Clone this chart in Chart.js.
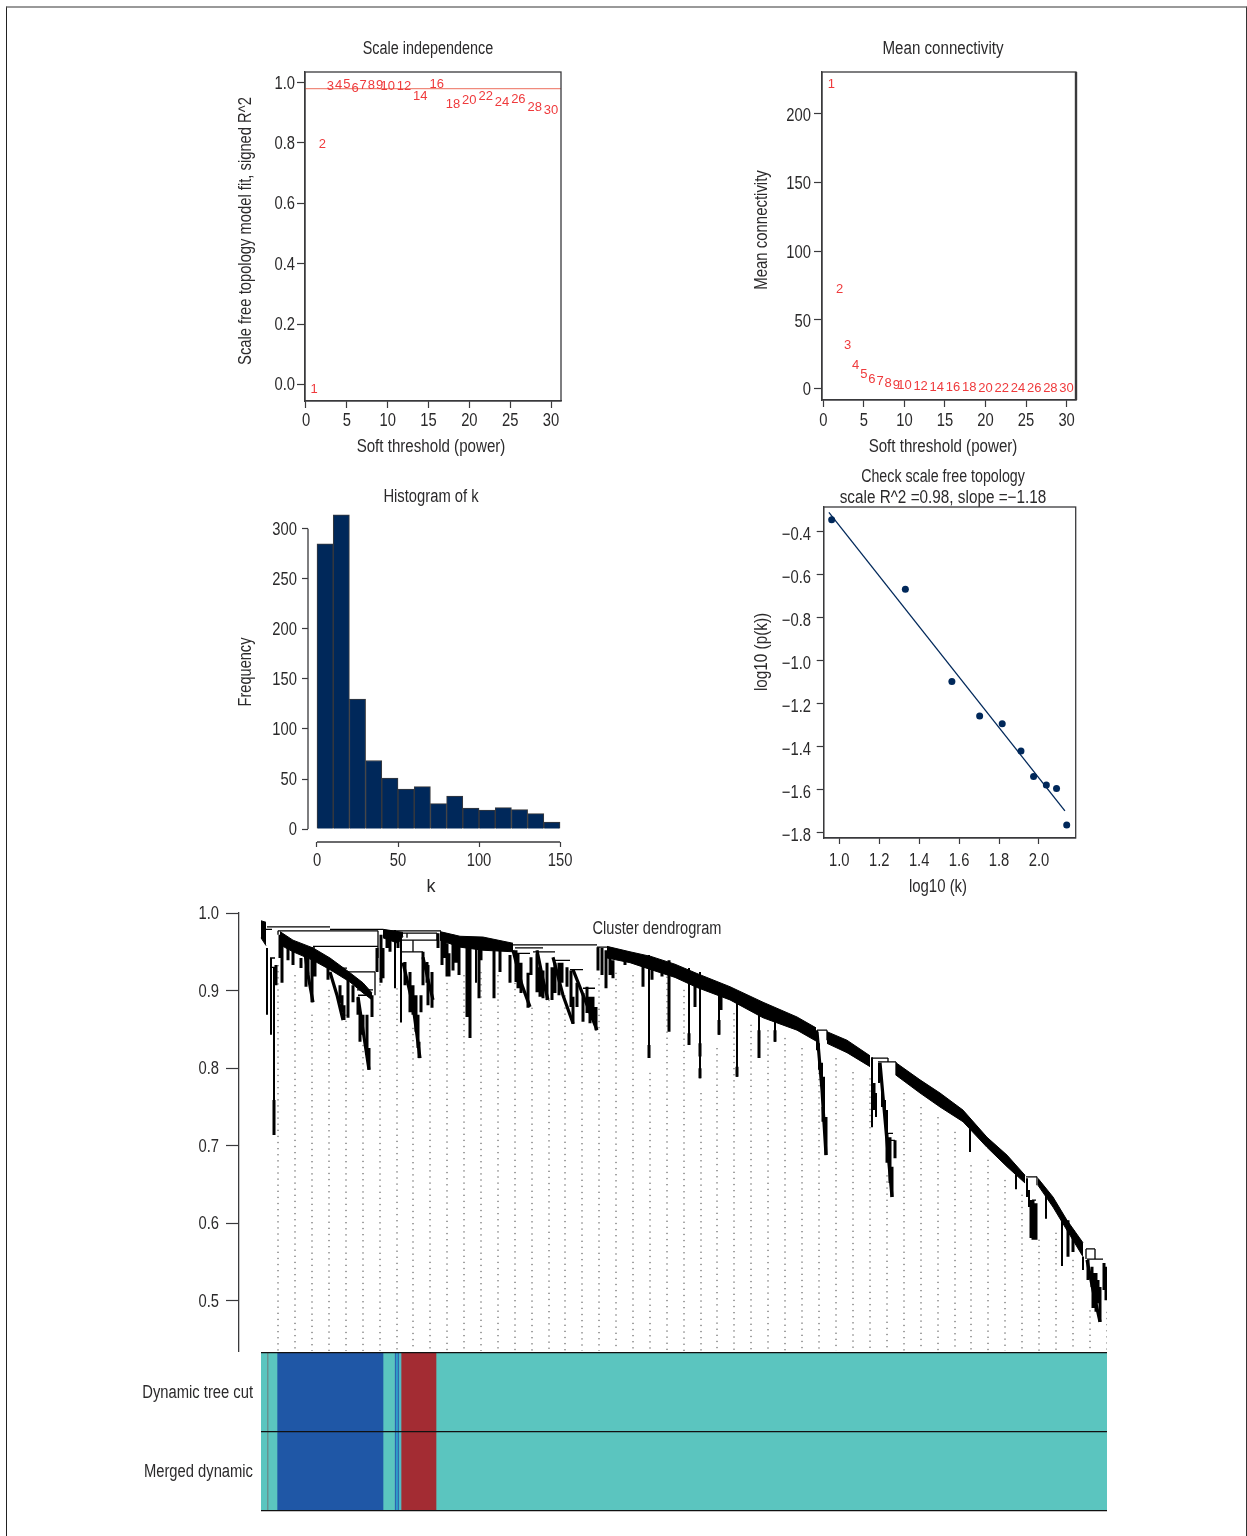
<!DOCTYPE html>
<html><head><meta charset="utf-8">
<style>
html,body{margin:0;padding:0;background:#fff}
#page{position:relative;width:1247px;height:1536px;overflow:hidden}
#frame{position:absolute;left:6px;top:6px;width:1241px;height:1560px;border-left:1px solid #222;border-right:1px solid #333;border-top:2px solid #999;box-sizing:border-box}
canvas{position:absolute}
</style>
<script src="https://cdn.jsdelivr.net/npm/chart.js@4"></script>
</head><body><div id="page"><div id="frame"></div></div>
<script>
// ---------- values ----------
const powers = [1,2,3,4,5,6,7,8,9,10,12,14,16,18,20,22,24,26,28,30];
const scaleFreeFit = [-0.015,0.795,0.987,0.99,0.994,0.98,0.991,0.991,0.991,0.987,0.986,0.955,0.994,0.927,0.941,0.954,0.933,0.945,0.917,0.908];
const cutHeight = 0.98;
const meanConnectivity = [221.6,72,31.5,16.7,10,6.5,4.9,3.6,2.4,2,1.2,0.7,0.5,0.3,0.2,0.2,0.1,0.1,0.1,0.1];
const histBinMid = [5,15,25,35,45,55,65,75,85,95,105,115,125,135,145];
const histCounts = [285,314,130,68.5,51,40,42.5,25.5,33,21,19,21.5,19.5,15.5,7];
const logK = [0.962,1.331,1.564,1.703,1.816,1.91,1.973,2.037,2.088,2.139];
const logPk = [-0.344,-0.668,-1.096,-1.257,-1.293,-1.42,-1.538,-1.578,-1.594,-1.764];
const fitLineX = [0.948,2.13];
const fitLineY = [-0.31,-1.698];
const powerTicks = [0,5,10,15,20,25,30];
const fitTicks = [0,0.2,0.4,0.6,0.8,1];
const connectivityTicks = [0,50,100,150,200];
const histXTicks = [0,50,100,150];
const histYTicks = [0,50,100,150,200,250,300];
const logKTicks = [1,1.2,1.4,1.6,1.8,2];
const logPkTicks = [-0.4,-0.6,-0.8,-1,-1.2,-1.4,-1.6,-1.8];
const heightTicks = [0.5,0.6,0.7,0.8,0.9,1];
const trackNames = ['Dynamic tree cut','Merged dynamic'];
const moduleSizes = [6,1,9,106,11.5,1,2,1,2,0.5,35,671];
const moduleColors = ['#5bc5bf','#6e7a7a','#5bc5bf','#1f57a6','#5bc5bf','#2a55a8','#2a9fc9','#2a55a8','#4fb8c4','#5bc5bf','#a32c33','#5bc5bf'];

// dendrogram: [leaf, height] or [leaf, top height, bottom height]
const bandTip = [[0,0.99,0.968],[5,0.988,0.958]];
const bandA = [[19,0.976,0.959],[32,0.965,0.95],[52,0.955,0.939],[69,0.942,0.927],[89,0.923,0.911],[102,0.91,0.897],[111,0.897,0.888]];
const bandB = [[122,0.979,0.968],[137,0.976,0.961],[142,0.975,0.97]];
const bandC = [[179,0.976,0.965],[199,0.97,0.956],[222,0.969,0.952],[252,0.961,0.95]];
const bandD = [[346,0.957,0.942],[369,0.95,0.936],[390,0.944,0.927],[414,0.934,0.917],[436,0.922,0.904],[469,0.905,0.888],[502,0.885,0.865],[536,0.866,0.849],[555,0.852,0.835]];
const bandE = [[566,0.847,0.832],[586,0.836,0.82],[609,0.816,0.802]];
const bandF = [[635,0.807,0.791],[659,0.785,0.768],[679,0.768,0.75],[702,0.746,0.731],[726,0.711,0.698],[746,0.688,0.673],[764,0.662,0.652]];
const bandG = [[777,0.658,0.649],[792,0.634,0.621],[806,0.604,0.591],[822,0.575,0.557]];
const strands = [
  [[44,0.948],[47,0.92],[52,0.885]],[[69,0.924],[76,0.894],[82,0.862]],[[97,0.892],[102,0.849],[108,0.798]],
  [[142,0.936],[152,0.881],[159,0.813]],[[162,0.943],[167,0.914],[172,0.888]],[[252,0.952],[261,0.907],[269,0.879]],
  [[276,0.952],[282,0.914],[287,0.888]],[[292,0.943],[302,0.894],[312,0.858]],[[312,0.927],[324,0.888],[336,0.849]],
  [[556,0.847],[561,0.772],[565,0.688]],[[619,0.807],[625,0.72],[631,0.634]],[[826,0.553],[832,0.514],[839,0.473]]
];
const links = [[6,69,0.982],[69,97,0.979],[97,122,0.979],[17,117,0.977],[52,117,0.957],[86,114,0.924],[96,112,0.901],[97,111,0.894],[76,86,0.929],[44,54,0.955],[49,56,0.948],[9,14,0.942],[11,15,0.93],[1,11,0.979],[140,162,0.95],[152,176,0.965],[140,152,0.965],[140,176,0.974],[122,180,0.977],[254,282,0.955],[254,269,0.948],[272,294,0.95],[294,309,0.939],[309,322,0.927],[322,334,0.903],[252,336,0.959],[336,346,0.956],[556,566,0.849],[611,627,0.813],[617,635,0.808],[626,632,0.716],[629,634,0.707],[765,776,0.66],[771,775,0.63],[825,834,0.567],[826,842,0.554]];
const stemsThin = [[17,0.977,0.972],[117,0.977,0.942],[114,0.924,0.894],[152,0.965,0.95],[146,0.974,0.968],[176,0.974,0.965],[627,0.813,0.808],[635,0.808,0.791],[776,0.66,0.649],[825,0.567,0.554],[834,0.567,0.554],[566,0.849,0.836]];
const stemsMid = [[6,0.955,0.869],[10,0.942,0.843],[13,0.93,0.714],[134,0.978,0.903],[140,0.968,0.859],[215,0.968,0.91],[388,0.946,0.813],[428,0.929,0.83],[439,0.924,0.787],[476,0.898,0.789],[458,0.898,0.843],[498,0.884,0.813],[514,0.875,0.834],[556,0.849,0.823],[558,0.832,0.798],[561,0.807,0.768],[563,0.789,0.729],[611,0.814,0.724],[615,0.768,0.737],[618,0.807,0.781],[621,0.781,0.75],[624,0.759,0.729],[626,0.746,0.716],[709,0.729,0.692],[755,0.665,0.644],[766,0.658,0.634],[768,0.643,0.621],[785,0.639,0.606],[801,0.608,0.545],[822,0.557,0.54]];
const stemsHeavy = [[15,0.933,0.907],[21,0.972,0.91],[19,0.972,0.942],[27,0.955,0.939],[32,0.955,0.933],[40,0.942,0.929],[45,0.955,0.905],[47,0.942,0.916],[51,0.942,0.885],[54,0.942,0.918],[67,0.933,0.914],[79,0.907,0.884],[81,0.894,0.872],[83,0.881,0.862],[87,0.916,0.865],[92,0.907,0.885],[97,0.89,0.869],[99,0.872,0.834],[102,0.869,0.843],[106,0.869,0.817],[108,0.826,0.798],[111,0.894,0.866],[116,0.955,0.924],[120,0.972,0.91],[122,0.955,0.916],
[13,0.759,0.714],[388,0.83,0.813],[439,0.832,0.815],[439,0.8,0.787],[428,0.845,0.83],[476,0.802,0.789],[458,0.862,0.843],[498,0.849,0.813],[514,0.849,0.834],
[126,0.978,0.955],[129,0.978,0.95],[137,0.975,0.955],[144,0.937,0.907],[149,0.924,0.872],[152,0.907,0.869],[155,0.894,0.847],[157,0.869,0.826],[158,0.834,0.813],[160,0.894,0.872],[162,0.95,0.907],[166,0.937,0.91],[167,0.933,0.881],[171,0.924,0.878],[177,0.974,0.955],[181,0.972,0.933],[184,0.972,0.942],[186,0.961,0.918],[188,0.948,0.918],[192,0.972,0.926],[195,0.969,0.936],[198,0.969,0.92],[206,0.968,0.866],[209,0.968,0.839],[218,0.968,0.89],[220,0.968,0.939],[233,0.952,0.89],[239,0.952,0.924],[249,0.946,0.91],
[255,0.952,0.911],[257,0.948,0.903],[260,0.936,0.897],[267,0.923,0.878],[270,0.943,0.92],[276,0.948,0.898],[279,0.93,0.892],[282,0.926,0.89],[286,0.936,0.888],[291,0.93,0.888],[294,0.936,0.897],[298,0.936,0.894],[301,0.936,0.91],[306,0.93,0.905],[310,0.926,0.879],[312,0.892,0.857],[316,0.91,0.879],[322,0.897,0.86],[326,0.905,0.871],[329,0.892,0.858],[332,0.892,0.862],[335,0.879,0.849],
[337,0.956,0.926],[341,0.955,0.92],[345,0.952,0.903],[349,0.948,0.92],[352,0.939,0.916],[364,0.946,0.933],[382,0.946,0.905],[391,0.943,0.914],[401,0.927,0.918],[408,0.939,0.847],[434,0.911,0.879],[460,0.898,0.875],[565,0.737,0.688],[562,0.75,0.731],[613,0.781,0.746],[626,0.716,0.678],[629,0.711,0.652],[631,0.673,0.634],[634,0.707,0.684],[770,0.63,0.581],[772,0.63,0.579],[775,0.626,0.579],[807,0.604,0.557],[812,0.591,0.563],[827,0.553,0.527],[831,0.544,0.518],[832,0.536,0.491],[835,0.536,0.486],[837,0.527,0.497],[839,0.518,0.473],[843,0.549,0.514],[845,0.544,0.501]];
const guideLeaves = [17,34,51,68,85,102,119,136,152,169,186,203,220,237,254,271,288,304,321,338,355,372,389,406,423,440,456,473,490,507,524,541,558,575,592,609,626,643,660,677,694,710,727,744,761,778,795,812,829,846];
const guideTops = [0.933,0.92,0.869,0.901,0.869,0.83,0.916,0.903,0.852,0.865,0.91,0.92,0.924,0.92,0.91,0.878,0.888,0.894,0.845,0.916,0.923,0.92,0.794,0.918,0.901,0.768,0.826,0.871,0.856,0.849,0.839,0.826,0.794,0.813,0.795,0.787,0.662,0.768,0.75,0.737,0.718,0.675,0.682,0.656,0.637,0.579,0.588,0.553,0.488,0.486];

// ---------- styling and helpers ----------
const SANS = "'Liberation Sans',sans-serif";
const INK = '#2b2a2b', LINE = '#3a3a3c', RED = '#ef3a3c', NAVY = '#00285a';
const TEXT_SIZE = 18, SQUEEZE = 0.82;
Chart.defaults.font.family = SANS;
Chart.defaults.font.size = TEXT_SIZE;
Chart.defaults.color = INK;

function squeezedText(c,text,x,y,align,sx,rot){
  c.save();
  c.font = TEXT_SIZE+'px '+SANS;
  c.fillStyle = INK; c.textAlign = align; c.textBaseline = 'middle';
  c.translate(rot?x+1:x,rot?y:y+1);
  if(rot) c.rotate(rot);
  c.scale(sx||SQUEEZE,1);
  c.fillText(text,0,0);
  c.restore();
}
const captionPlugin = {
  id:'captions',
  afterDraw(chart){
    const o = chart.canvas._origin;
    (chart.options.plugins.captions.items||[]).forEach(it=>
      squeezedText(chart.ctx,it.text,it.x-o.l,it.y-o.t,'center',it.sx,it.rot));
  }
};
const tickTextPlugin = {
  id:'tickText',
  afterDraw(chart){
    const a = chart.chartArea;
    Object.values(chart.scales).forEach(s=>{
      if(s.options.labelGap===undefined) return;
      s.ticks.forEach((t,i)=>{
        const p = s.getPixelForTick(i);
        if(s.isHorizontal()) squeezedText(chart.ctx,t.label,p,a.bottom+s.options.labelGap,'center');
        else squeezedText(chart.ctx,t.label,a.left-s.options.labelGap,p+(s.options.labelDrop||0),'right');
      });
    });
  }
};
const framePlugin = {
  id:'frame',
  afterDraw(chart){
    const f = chart.options.plugins.frame; if(!f.on) return;
    const a = chart.chartArea, c = chart.ctx;
    c.save(); c.strokeStyle = LINE; c.lineWidth = 1.3;
    c.strokeRect(a.left,a.top,a.right-a.left,a.bottom-a.top);
    if(f.heavyRight){ c.lineWidth = 2.4; c.beginPath(); c.moveTo(a.right,a.top); c.lineTo(a.right,a.bottom); c.stroke(); }
    c.restore();
  }
};
const numberPlugin = {
  id:'numberLabels',
  afterDatasetsDraw(chart){
    chart.data.datasets.forEach((ds,i)=>{
      if(!ds.numberLabels) return;
      const c = chart.ctx;
      c.save(); c.font = "13px 'Liberation Sans',sans-serif"; c.fillStyle = RED;
      c.textAlign='center'; c.textBaseline='middle';
      chart.getDatasetMeta(i).data.forEach((p,k)=>c.fillText(String(ds.numberLabels[k]),p.x,p.y));
      c.restore();
    });
  }
};
const axisLinePlugin = {
  id:'axisLines',
  afterDraw(chart){
    if(!chart.options.plugins.axisLines.on) return;
    const c = chart.ctx, x = chart.scales.x, y = chart.scales.y, a = chart.chartArea;
    c.save(); c.strokeStyle = LINE; c.lineWidth = 1.3; c.beginPath();
    c.moveTo(x.getPixelForValue(histXTicks[0]),a.bottom); c.lineTo(x.getPixelForValue(histXTicks[histXTicks.length-1]),a.bottom);
    c.moveTo(a.left,y.getPixelForValue(histYTicks[0])); c.lineTo(a.left,y.getPixelForValue(histYTicks[histYTicks.length-1]));
    c.stroke(); c.restore();
  }
};
Chart.register(captionPlugin,tickTextPlugin,framePlugin,numberPlugin,axisLinePlugin);

function forceTicks(list){ return s=>{ s.ticks = list.map(v=>({value:v})); }; }
function fmt(d){ return v=>(+v).toFixed(d).replace('-','\u2212'); }
function axis(min,max,list,fit,tick,gap,dec,showBorder,drop){
  return {
    type:'linear',min,max,afterBuildTicks:forceTicks(list),afterFit:fit,labelGap:gap,labelDrop:drop||0,
    grid:{display:true,offset:false,drawOnChartArea:false,drawTicks:true,tickLength:tick,tickColor:LINE,tickWidth:1.2},
    border:{display:showBorder!==false,color:LINE,width:1.3},
    ticks:{display:false,callback:fmt(dec)}
  };
}
function panel(box,plot,yW,xH,cfg){
  const cv = document.createElement('canvas');
  cv.width = box.r-box.l; cv.height = box.b-box.t;
  cv.style.left = box.l+'px'; cv.style.top = box.t+'px';
  cv._origin = box;
  document.getElementById('page').appendChild(cv);
  cfg.options = cfg.options||{};
  cfg.options.responsive=false; cfg.options.animation=false;
  cfg.options.layout={padding:{left:plot.l-box.l-yW,top:plot.t-box.t,right:box.r-plot.r,bottom:box.b-plot.b-xH}};
  cfg.options.plugins=Object.assign({legend:{display:false},tooltip:{enabled:false},frame:{},captions:{},axisLines:{}},cfg.options.plugins);
  return new Chart(cv,cfg);
}
const fitW = w=>s=>{s.width=w;};
const fitH = h=>s=>{s.height=h;};
const pts = (xs,ys)=>xs.map((x,i)=>({x,y:ys[i]}));
const ROT = -Math.PI/2;

// ---------- Scale independence ----------
panel({l:230,t:30,r:575,b:460},{l:305,t:72,r:561,b:401},60,45,{
  type:'scatter',
  data:{datasets:[
    {data:pts(powers,scaleFreeFit),pointRadius:0,numberLabels:powers,showLine:false},
    {data:pts([-0.12,31.22],[cutHeight,cutHeight]),showLine:true,pointRadius:0,borderColor:'#f08a7c',borderWidth:1.3}
  ]},
  options:{
    scales:{x:axis(-0.12,31.22,powerTicks,fitH(45),7,19,0),y:axis(-0.055,1.035,fitTicks,fitW(60),8,10,1)},
    plugins:{frame:{on:true},captions:{items:[
      {text:'Scale independence',x:428,y:48,sx:0.8},
      {text:'Soft threshold (power)',x:431,y:446,sx:0.84},
      {text:'Scale free topology model fit, signed R^2',x:245,y:231,rot:ROT,sx:0.82}]}}
  }
});

// ---------- Mean connectivity ----------
panel({l:745,t:30,r:1090,b:460},{l:822,t:72,r:1076,b:400},60,45,{
  type:'scatter',
  data:{datasets:[{data:pts(powers,meanConnectivity),pointRadius:0,numberLabels:powers,showLine:false}]},
  options:{
    scales:{x:axis(-0.16,31.16,powerTicks,fitH(45),7,20,0),y:axis(-8.5,230.4,connectivityTicks,fitW(60),8,11,0,true,1)},
    plugins:{frame:{on:true,heavyRight:true},captions:{items:[
      {text:'Mean connectivity',x:943,y:48,sx:0.84},
      {text:'Soft threshold (power)',x:943,y:446,sx:0.84},
      {text:'Mean connectivity',x:761,y:230,rot:ROT,sx:0.83}]}}
  }
});

// ---------- Histogram of k ----------
panel({l:230,t:480,r:580,b:900},{l:308,t:510,r:561,b:842},60,45,{
  type:'bar',
  data:{datasets:[{data:pts(histBinMid,histCounts),backgroundColor:NAVY,borderColor:'#3a3a3c',borderWidth:1,barPercentage:1,categoryPercentage:1}]},
  options:{
    scales:{x:Object.assign(axis(-5.55,150.6,histXTicks,fitH(45),5,18,0,false),{offset:false}),
            y:axis(-12.9,318.8,histYTicks,fitW(60),6,11,0,false)},
    plugins:{axisLines:{on:true},captions:{items:[
      {text:'Histogram of k',x:431,y:496,sx:0.82},
      {text:'k',x:431,y:886,sx:1},
      {text:'Frequency',x:245,y:672,rot:ROT,sx:0.81}]}}
  }
});

// ---------- Check scale free topology ----------
panel({l:745,t:460,r:1090,b:900},{l:823.7,t:507,r:1075.7,b:838},60,45,{
  type:'scatter',
  data:{datasets:[
    {data:pts(logK,logPk),pointRadius:3.5,pointBackgroundColor:NAVY,pointBorderWidth:0,showLine:false},
    {data:pts(fitLineX,fitLineY),showLine:true,pointRadius:0,borderColor:NAVY,borderWidth:1.3}
  ]},
  options:{
    scales:{x:axis(0.922,2.184,logKTicks,fitH(45),6,22,1),y:axis(-1.824,-0.285,logPkTicks,fitW(60),7,12.7,1,true,2)},
    plugins:{frame:{on:true},captions:{items:[
      {text:'Check scale free topology',x:943,y:476,sx:0.79},
      {text:'scale R^2 =0.98, slope =\u22121.18',x:943,y:497,sx:0.85},
      {text:'log10 (k)',x:938,y:886,sx:0.83},
      {text:'log10 (p(k))',x:761,y:652,rot:ROT,sx:0.85}]}}
  }
});

// ---------- Cluster dendrogram ----------
const segStems = list=>list.flatMap(s=>[{x:s[0],y:s[1]},{x:s[0],y:s[2]},{x:s[0],y:null}]);
const segLinks = list=>list.flatMap(s=>[{x:s[0],y:s[2]},{x:s[1],y:s[2]},{x:s[1],y:null}]);
const segStrands = list=>list.flatMap(s=>[...s.map(p=>({x:p[0],y:p[1]})),{x:s[s.length-1][0],y:null}]);
const treeLine = (data,width)=>({data,showLine:true,spanGaps:false,pointRadius:0,borderColor:'#000',borderWidth:width,borderCapStyle:'butt'});
const bandSets = band=>[
  {data:band.map(b=>({x:b[0],y:b[1]})),showLine:true,pointRadius:0,borderColor:'#000',borderWidth:1,backgroundColor:'#000',fill:'+1'},
  {data:band.map(b=>({x:b[0],y:b[2]})),showLine:true,pointRadius:0,borderColor:'#000',borderWidth:1,fill:false}
];
const guides = guideLeaves.flatMap((x,i)=>[{x,y:guideTops[i]},{x,y:0.4355},{x,y:null}]);
panel({l:130,t:900,r:1120,b:1352},{l:239,t:913,r:1107,b:1351},100,0,{
  type:'scatter',
  data:{datasets:[
    treeLine(segStrands(strands),3.2),
    treeLine(segStems(stemsHeavy),3),
    treeLine(segStems(stemsMid),2),
    treeLine(segStems(stemsThin),1.3),
    treeLine(segLinks(links),1.3),
    ...[bandTip,bandA,bandB,bandC,bandD,bandE,bandF,bandG].flatMap(bandSets),
    {data:guides,showLine:true,spanGaps:false,pointRadius:0,borderColor:'#444',borderWidth:1,borderDash:[1.3,4.8]}
  ]},
  options:{
    scales:{
      x:{type:'linear',display:false,min:-22,max:846},
      y:axis(0.4355,1,heightTicks,fitW(100),13,20,1)
    },
    plugins:{captions:{items:[{text:'Cluster dendrogram',x:657,y:928,sx:0.81}]}}
  }
});

// ---------- Module colour tracks ----------
panel({l:130,t:1345,r:1120,b:1520},{l:261,t:1353,r:1107,b:1511},125,0,{
  type:'bar',
  data:{labels:trackNames,datasets:moduleSizes.map((v,i)=>({data:trackNames.map(()=>v),backgroundColor:moduleColors[i],borderWidth:0,barPercentage:1,categoryPercentage:1,stack:'s'}))},
  options:{
    indexAxis:'y',
    scales:{
      x:{display:false,stacked:true,min:0,max:846},
      y:{stacked:true,afterFit:fitW(125),labelGap:8,labelDrop:0,
         grid:{display:true,offset:true,drawTicks:false,color:'#111',lineWidth:1.3,z:1},
         border:{display:false},
         ticks:{display:false}}
    }
  }
});
</script></body></html>
